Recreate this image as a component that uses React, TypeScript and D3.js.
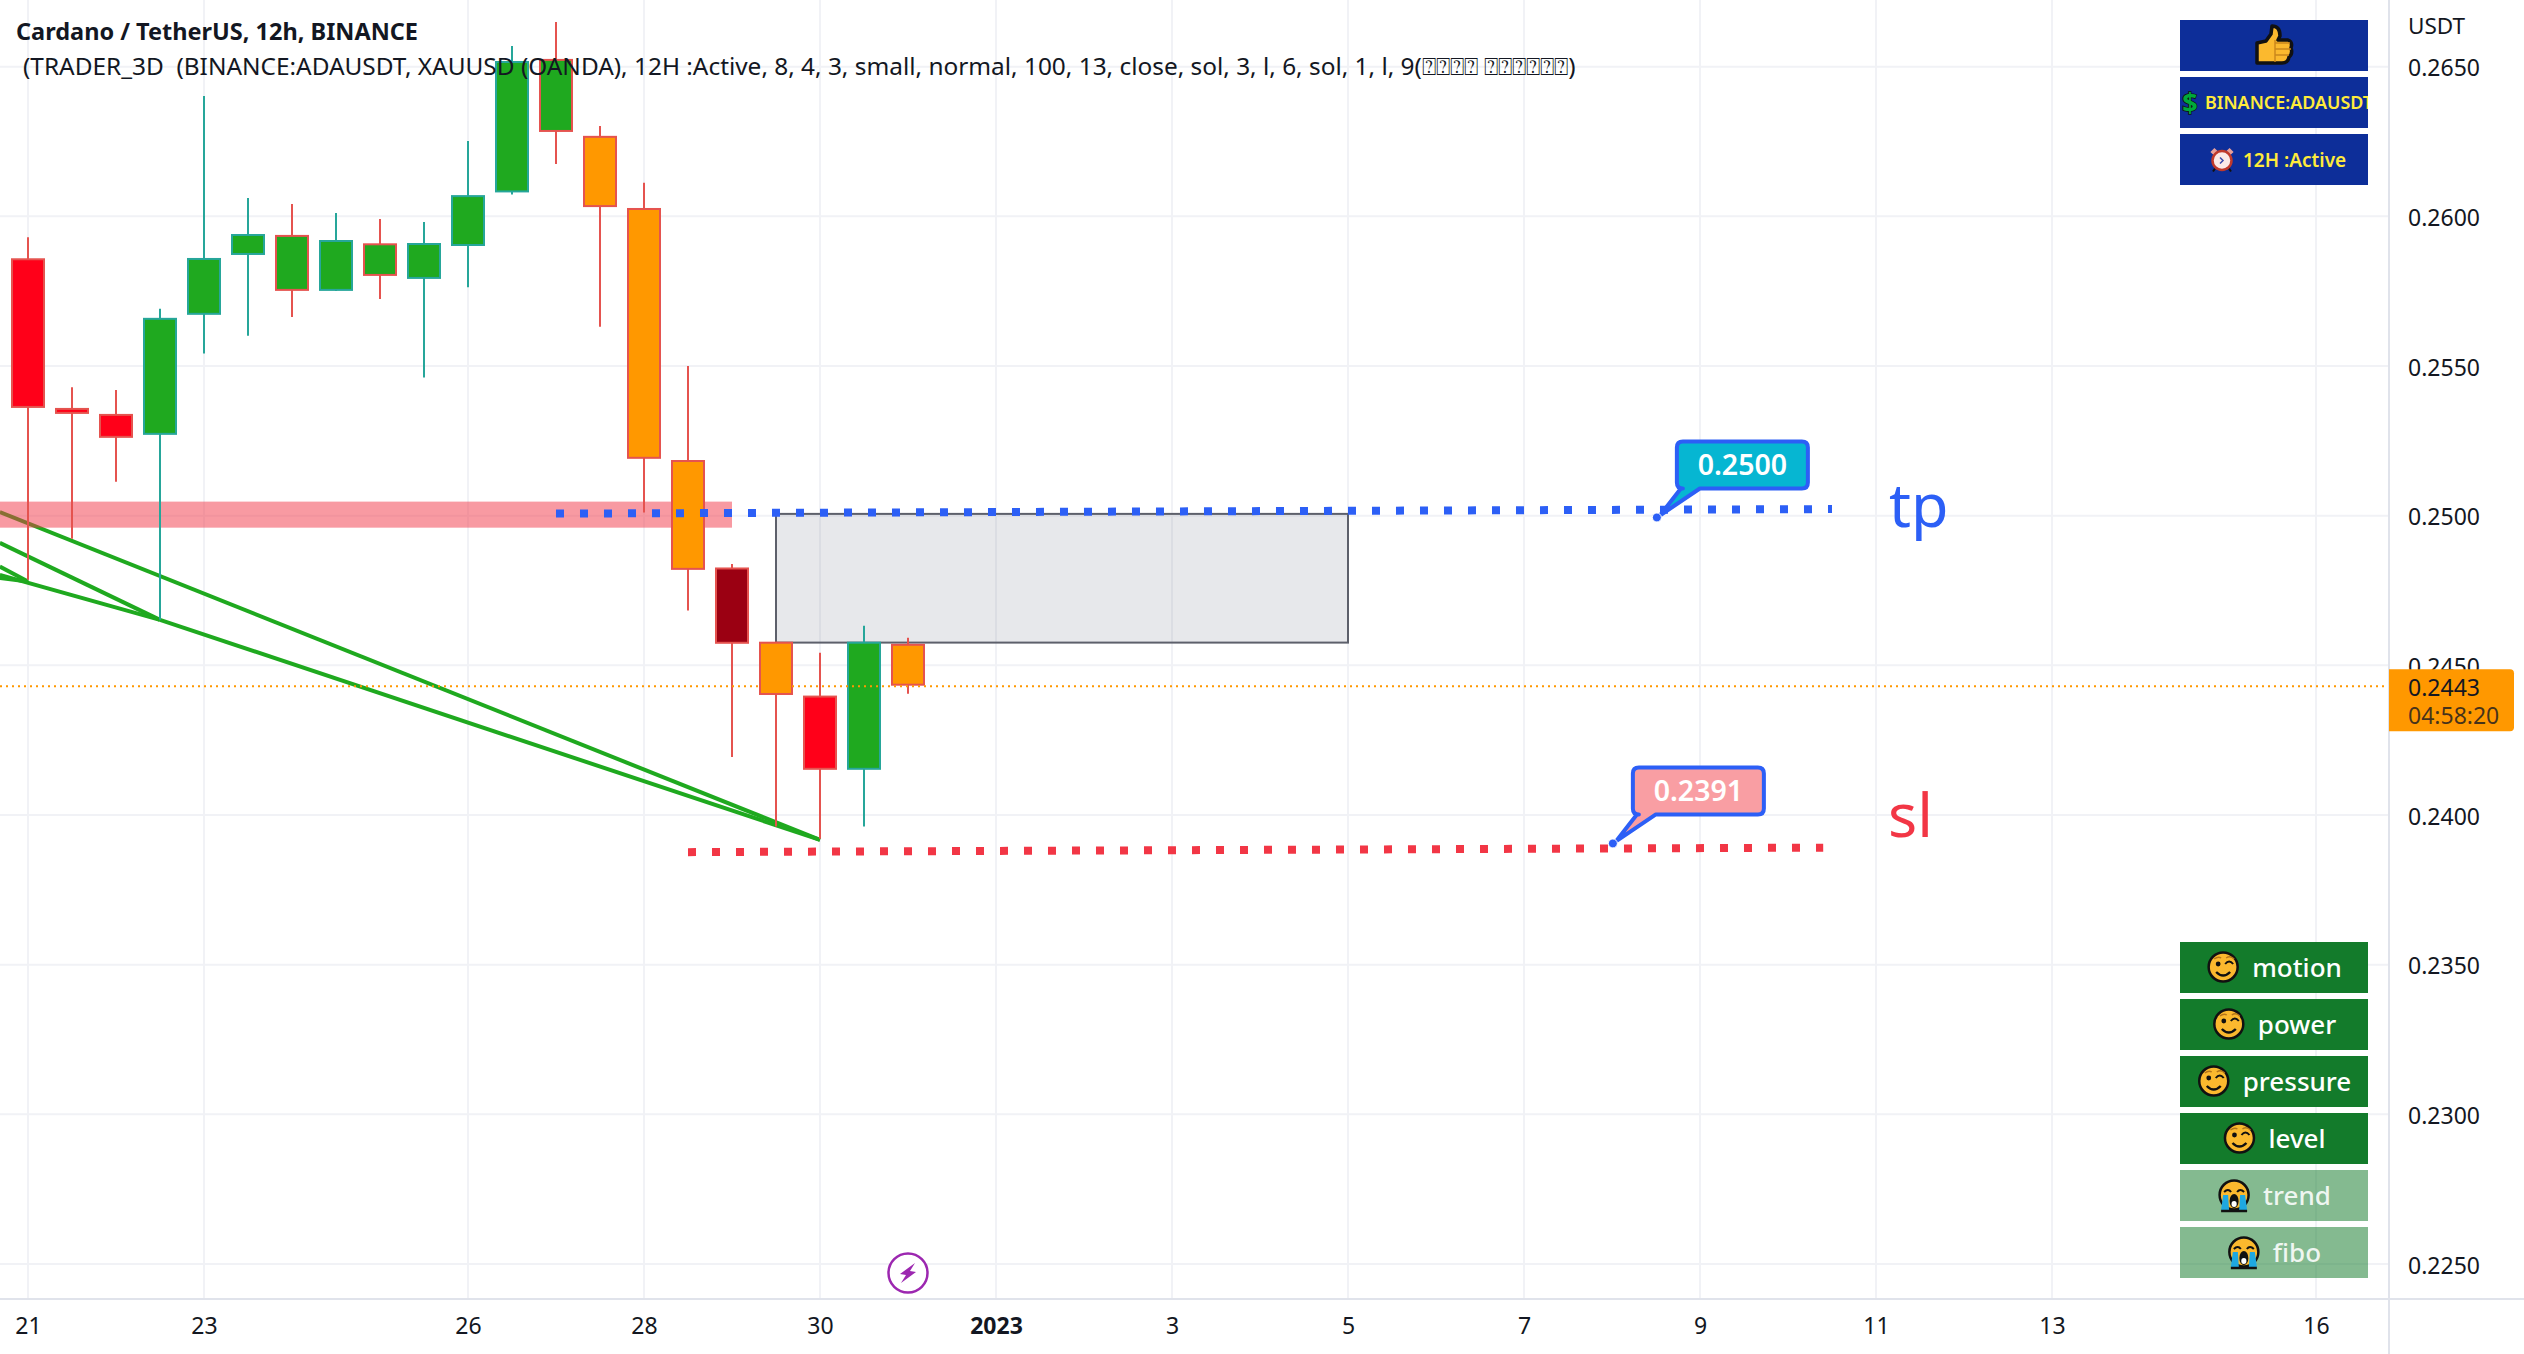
import React, { useEffect, useRef } from "react";
import * as d3 from "d3";

const WIDTH = 2524;
const HEIGHT = 1354;
const PLOT_RIGHT = 2389;
const PLOT_BOTTOM = 1299;
const FONT = "'Noto Sans', sans-serif";

// candles, 12h each, from Dec 21 00:00
const opens = [0.2586, 0.2536, 0.2534, 0.2527, 0.25671, 0.25871, 0.25938, 0.25751, 0.2591, 0.25791, 0.25901, 0.2608, 0.26526, 0.26269, 0.26028, 0.25186, 0.24827, 0.24579, 0.24399, 0.24151, 0.24572];
const highs = [0.2593, 0.25429, 0.2542, 0.25691, 0.26402, 0.26061, 0.26041, 0.26011, 0.25991, 0.25981, 0.26252, 0.26569, 0.26649, 0.26302, 0.26112, 0.255, 0.24839, 0.24579, 0.24542, 0.24632, 0.24592];
const lows = [0.24786, 0.24923, 0.25113, 0.24652, 0.25542, 0.25601, 0.25664, 0.25751, 0.25724, 0.25462, 0.25763, 0.26073, 0.26175, 0.25631, 0.25011, 0.24683, 0.24194, 0.23962, 0.23921, 0.23962, 0.24405];
const closes = [0.2536, 0.2534, 0.2526, 0.25661, 0.25861, 0.25941, 0.25751, 0.25921, 0.25801, 0.25911, 0.26071, 0.26519, 0.26282, 0.26031, 0.2519, 0.24819, 0.24572, 0.24401, 0.24151, 0.24579, 0.24432];
// body colour comes from the indicator, not from the direction of the candle
const bodyKinds = ["red", "red", "red", "green", "green", "green", "green", "green", "green", "green", "green", "green", "green", "orange", "orange", "orange", "dark", "orange", "red", "green", "orange"];

const priceTicks = [0.225, 0.23, 0.235, 0.24, 0.245, 0.25, 0.255, 0.26, 0.265];
const timeTickDays = [[2022, 11, 21], [2022, 11, 23], [2022, 11, 26], [2022, 11, 28], [2022, 11, 30], [2023, 0, 1], [2023, 0, 3], [2023, 0, 5], [2023, 0, 7], [2023, 0, 9], [2023, 0, 11], [2023, 0, 13], [2023, 0, 16]];
const timeTickLabels = ["21", "23", "26", "28", "30", "2023", "3", "5", "7", "9", "11", "13", "16"];

const lastPrice = 0.2443;
const countdown = "04:58:20";

// [bar number, price] pairs
const trendLines = [
  [[-0.64, 0.25012], [18, 0.23917]],
  [[-0.64, 0.24909], [3, 0.24652]],
  [[-0.64, 0.24802], [3, 0.24652]],
  [[3, 0.24652], [18, 0.23917]],
  [[-0.64, 0.2483], [0, 0.2478]],
  [[-0.64, 0.24792], [0, 0.2478]],
];
const zoneBars = [-0.64, 16];
const zonePrices = [0.25047, 0.2496];
const boxBars = [17, 30];
const boxPrices = [0.25006, 0.24576];
const tpLine = [[12, 0.25007], [41, 0.25022]];
const slLine = [[15, 0.23876], [40.8, 0.23891]];
const tpTip = [37.02, 0.24994];
const slTip = [36.02, 0.23905];

const topPanelLabels = ["BINANCE:ADAUSDT", "12H :Active"];
const sidePanelLabels = ["motion", "power", "pressure", "level", "trend", "fibo"];
const sidePanelIcons = ["wink", "wink", "wink", "wink", "cry", "cry"];

const titleText = "Cardano / TetherUS, 12h, BINANCE";
const indicatorText = "(TRADER_3D  (BINANCE:ADAUSDT, XAUUSD (OANDA), 12H :Active, 8, 4, 3, small, normal, 100, 13, close, sol, 3, l, 6, sol, 1, l, 9(\u2370\u2370\u2370\u2370 \u2370\u2370\u2370\u2370\u2370\u2370)";

const BODY_FILL: Record<string, string> = { red: "#ff0019", green: "#1fa91f", orange: "#ff9800", dark: "#9b0012" };
const BLUE = "#2c5ff6";
const RED = "#f23645";
const GRID = "#f1f2f6";

const barTime = (i: number) => new Date(Date.UTC(2022, 11, 21) + i * 12 * 3600 * 1000);

function wink(g: any) {
  g.append("circle").attr("r", 14.5).attr("fill", "#fbb92e").attr("stroke", "#111").attr("stroke-width", 2.5);
  g.append("circle").attr("cx", -5).attr("cy", -3).attr("r", 2.4).attr("fill", "#111");
  g.append("path").attr("d", "M2,-3 Q6,-8 10,-3").attr("fill", "none").attr("stroke", "#111").attr("stroke-width", 2);
  g.append("path").attr("d", "M-9,-8 Q-5,-11 -2,-9 M3,-9 Q7,-12 11,-8").attr("fill", "none").attr("stroke", "#b5761a").attr("stroke-width", 1.4);
  g.append("path").attr("d", "M-7,5 Q0,12 7,5").attr("fill", "none").attr("stroke", "#111").attr("stroke-width", 2.4);
}

function cry(g: any) {
  g.append("circle").attr("r", 14.5).attr("fill", "#fbb92e").attr("stroke", "#111").attr("stroke-width", 2.5);
  g.append("path").attr("d", "M-10,-3 Q-6,-7 -3,-3 M3,-3 Q6,-7 10,-3").attr("fill", "none").attr("stroke", "#111").attr("stroke-width", 2);
  g.append("path").attr("d", "M-11,0 L-6,0 L-5,15 L-13,15 Z M6,0 L11,0 L13,15 L5,15 Z").attr("fill", "#1fa8e0");
  g.append("path").attr("d", "M-13,16 L13,16").attr("stroke", "#111").attr("stroke-width", 2.5);
  g.append("ellipse").attr("cy", 6).attr("rx", 4.5).attr("ry", 7).attr("fill", "#111");
  g.append("ellipse").attr("cy", 9).attr("rx", 2.6).attr("ry", 3).attr("fill", "#fff");
}

function thumb(g: any) {
  g.append("path")
    .attr("d", "M-17,-3 L-8,-5 L-3,-12 L-2,-20 Q6,-20 6,-10 L4,-6 L14,-6 Q19,-4 17,2 Q19,8 15,11 Q14,17 8,17 L-17,17 Z")
    .attr("fill", "#fbb92e").attr("stroke", "#111").attr("stroke-width", 3.5).attr("stroke-linejoin", "round");
  g.append("path").attr("d", "M1,-3 L16,-3 M1,3 L17,3 M1,9 L15,9 M1,-6 L1,16").attr("stroke", "#c9861c").attr("stroke-width", 1.4).attr("fill", "none");
}

function clock(g: any) {
  g.append("path").attr("d", "M-10,-7 L-6,-11 M10,-7 L6,-11").attr("stroke", "#e8a09a").attr("stroke-width", 4.5);
  g.append("path").attr("d", "M-7,8 L-9,11 M7,8 L9,11").attr("stroke", "#111").attr("stroke-width", 2);
  g.append("circle").attr("r", 9.5).attr("fill", "#fbe9e7").attr("stroke", "#c0392b").attr("stroke-width", 2.5);
  g.append("path").attr("d", "M-2,-3 L1,0 L-2,3").attr("fill", "none").attr("stroke", "#3949ab").attr("stroke-width", 1.5);
}

const App = () => {
  const ref = useRef<SVGSVGElement>(null);

  useEffect(() => {
    const svg = d3.select(ref.current);
    svg.selectAll("*").remove();

    const x = d3.scaleUtc().domain([Date.UTC(2022, 11, 21), Date.UTC(2023, 0, 16)]).range([28, 2316]);
    const y = d3.scaleLinear().domain([0.225, 0.265]).range([1264, 66.7]);
    const xb = (i: number) => x(barTime(i));
    const timeTicks = timeTickDays.map((d) => new Date(Date.UTC(d[0], d[1], d[2])));

    svg.append("rect").attr("width", WIDTH).attr("height", HEIGHT).attr("fill", "#fff");

    // grid
    const grid = svg.append("g").attr("stroke", GRID).attr("stroke-width", 2);
    grid.selectAll("line.h").data(priceTicks).join("line").attr("class", "h")
      .attr("x1", 0).attr("x2", PLOT_RIGHT).attr("y1", (d) => y(d)).attr("y2", (d) => y(d));
    grid.selectAll("line.v").data(timeTicks).join("line").attr("class", "v")
      .attr("y1", 0).attr("y2", PLOT_BOTTOM).attr("x1", (d) => x(d)).attr("x2", (d) => x(d));

    // grey box behind the candles
    svg.append("rect")
      .attr("x", xb(boxBars[0])).attr("width", xb(boxBars[1]) - xb(boxBars[0]))
      .attr("y", y(boxPrices[0])).attr("height", y(boxPrices[1]) - y(boxPrices[0]))
      .attr("fill", "#7a7d90").attr("fill-opacity", 0.18).attr("stroke", "#5d606b").attr("stroke-width", 2);

    // trend lines
    const line = d3.line<number[]>().x((d) => xb(d[0])).y((d) => y(d[1]));
    svg.append("g").selectAll("path").data(trendLines).join("path")
      .attr("d", (d) => line(d)).attr("fill", "none").attr("stroke", "#1fa91f").attr("stroke-width", 4);

    // zone
    svg.append("rect")
      .attr("x", xb(zoneBars[0])).attr("width", xb(zoneBars[1]) - xb(zoneBars[0]))
      .attr("y", y(zonePrices[0])).attr("height", y(zonePrices[1]) - y(zonePrices[0]))
      .attr("fill", "#f23645").attr("fill-opacity", 0.5);

    // candles
    const bodyW = 32;
    const candles = svg.append("g").selectAll("g").data(opens).join("g");
    const edge = (i: number) => (closes[i] >= opens[i] ? "#26a69a" : "#e5534f");
    candles.append("line")
      .attr("x1", (_, i) => xb(i)).attr("x2", (_, i) => xb(i))
      .attr("y1", (_, i) => y(highs[i])).attr("y2", (_, i) => y(lows[i]))
      .attr("stroke", (_, i) => edge(i)).attr("stroke-width", 2);
    candles.append("rect")
      .attr("x", (_, i) => xb(i) - bodyW / 2).attr("width", bodyW)
      .attr("y", (_, i) => y(Math.max(opens[i], closes[i])) + 1)
      .attr("height", (_, i) => Math.abs(y(opens[i]) - y(closes[i])) - 2)
      .attr("fill", (_, i) => BODY_FILL[bodyKinds[i]])
      .attr("stroke", (_, i) => edge(i)).attr("stroke-width", 2);

    // last price line
    svg.append("line").attr("x1", 0).attr("x2", PLOT_RIGHT).attr("y1", y(lastPrice)).attr("y2", y(lastPrice))
      .attr("stroke", "#ff9800").attr("stroke-width", 2).attr("stroke-dasharray", "2 4");

    // tp / sl dotted lines
    svg.append("path").attr("d", line(tpLine)).attr("stroke", BLUE).attr("stroke-width", 8).attr("stroke-dasharray", "8 16").attr("fill", "none");
    svg.append("path").attr("d", line(slLine)).attr("stroke", RED).attr("stroke-width", 8).attr("stroke-dasharray", "8 16").attr("fill", "none");

    // callouts
    const callout = (tip: number[], label: string, fill: string) => {
      const tx = xb(tip[0]);
      const ty = y(tip[1]);
      const g = svg.append("g").attr("transform", `translate(${tx},${ty})`);
      const l = 20, r = 151, t = -76, b = -29, c = 6;
      g.append("path")
        .attr("d", `M${l + c},${t} H${r - c} Q${r},${t} ${r},${t + c} V${b - c} Q${r},${b} ${r - c},${b} H43 L3,-2 L${l + 4},${b} H${l + c} Q${l},${b} ${l},${b - c} V${t + c} Q${l},${t} ${l + c},${t} Z`)
        .attr("fill", fill).attr("stroke", BLUE).attr("stroke-width", 4).attr("stroke-linejoin", "round");
      g.append("circle").attr("r", 4.5).attr("fill", BLUE).attr("stroke", "#fff").attr("stroke-width", 1);
      g.append("text").attr("x", (l + r) / 2).attr("y", (t + b) / 2).attr("dy", "0.36em")
        .attr("text-anchor", "middle").attr("font-family", FONT).attr("font-weight", 600)
        .attr("font-size", 28.5).attr("fill", "#fff").text(label);
    };
    callout(tpTip, "0.2500", "#06b6d2");
    callout(slTip, "0.2391", "#f99ea3");

    svg.append("text").attr("x", 1889).attr("y", 527).attr("font-family", FONT).attr("font-size", 61).attr("fill", BLUE).text("tp");
    svg.append("text").attr("x", 1888).attr("y", 837).attr("font-family", FONT).attr("font-size", 61).attr("fill", RED).text("sl");

    // bolt marker
    const bolt = svg.append("g").attr("transform", `translate(${xb(20)},1273)`);
    bolt.append("circle").attr("r", 19.5).attr("fill", "#fff").attr("stroke", "#9c27b0").attr("stroke-width", 2.5);
    bolt.append("path").attr("d", "M7,-10 L-8,1 L-2,2 L-7,10 L8,-1 L2,-2 Z").attr("fill", "#9c27b0");

    // axis borders
    svg.append("rect").attr("x", PLOT_RIGHT).attr("width", WIDTH - PLOT_RIGHT).attr("height", HEIGHT).attr("fill", "#fff");
    svg.append("rect").attr("y", PLOT_BOTTOM).attr("width", WIDTH).attr("height", HEIGHT - PLOT_BOTTOM).attr("fill", "#fff");
    svg.append("line").attr("x1", PLOT_RIGHT).attr("x2", PLOT_RIGHT).attr("y1", 0).attr("y2", HEIGHT).attr("stroke", "#e0e3eb").attr("stroke-width", 2);
    svg.append("line").attr("x1", 0).attr("x2", WIDTH).attr("y1", PLOT_BOTTOM).attr("y2", PLOT_BOTTOM).attr("stroke", "#e0e3eb").attr("stroke-width", 2);

    // axes
    const yAxis = svg.append("g").attr("transform", `translate(${PLOT_RIGHT},0)`)
      .call(d3.axisRight(y).tickValues(priceTicks).tickFormat(d3.format(".4f")).tickSize(0).tickPadding(19));
    const xAxis = svg.append("g").attr("transform", `translate(0,${PLOT_BOTTOM})`)
      .call(d3.axisBottom(x).tickValues(timeTicks).tickFormat((_, i) => timeTickLabels[i]).tickSize(0).tickPadding(19));
    [yAxis, xAxis].forEach((a) => {
      a.select(".domain").remove();
      a.selectAll("text").attr("font-family", FONT).attr("font-size", 23).attr("fill", "#131722");
    });
    yAxis.selectAll("text").attr("dy", "0.4em");
    xAxis.selectAll("text").filter((_, i) => timeTickLabels[i] === "2023").attr("font-weight", 700);
    svg.append("text").attr("x", 2408).attr("y", 34).attr("font-family", FONT).attr("font-size", 22.5).attr("fill", "#131722").text("USDT");

    // price tag
    const tagY = y(lastPrice);
    svg.append("path").attr("d", `M${PLOT_RIGHT},${tagY - 17} H2510 Q2514,${tagY - 17} 2514,${tagY - 13} V${tagY + 41} Q2514,${tagY + 45} 2510,${tagY + 45} H${PLOT_RIGHT} Z`).attr("fill", "#ff9800");
    svg.append("text").attr("x", 2408).attr("y", tagY).attr("dy", "0.4em").attr("font-family", FONT).attr("font-size", 23).attr("fill", "#131722").text(d3.format(".4f")(lastPrice));
    svg.append("text").attr("x", 2408).attr("y", tagY + 29).attr("dy", "0.36em").attr("font-family", FONT).attr("font-size", 23).attr("fill", "#131722").attr("fill-opacity", 0.8).text(countdown);

    // panels top right
    const panelX = 2180;
    const panelW = 188;
    const panelH = 51;
    const defs = svg.append("defs");
    defs.append("clipPath").attr("id", "panel-clip").append("rect").attr("x", panelX).attr("y", 0).attr("width", panelW).attr("height", 200);
    [20, 77, 134].forEach((py) => {
      svg.append("rect").attr("x", panelX).attr("y", py).attr("width", panelW).attr("height", panelH).attr("fill", "#0d2e99");
    });
    thumb(svg.append("g").attr("transform", "translate(2274,46)"));
    svg.append("text").attr("x", 2190).attr("y", 103).attr("dy", "0.36em").attr("text-anchor", "middle")
      .attr("font-family", FONT).attr("font-weight", 700).attr("font-size", 27).attr("fill", "#00a83b")
      .attr("stroke", "#111").attr("stroke-width", 1.6).attr("paint-order", "stroke").text("$");
    svg.append("text").attr("x", 2205).attr("y", 109).attr("clip-path", "url(#panel-clip)")
      .attr("font-family", FONT).attr("font-weight", 600).attr("font-size", 18.5).attr("fill", "#ffeb3b")
      .attr("textLength", 168).attr("lengthAdjust", "spacingAndGlyphs").text(topPanelLabels[0]);
    clock(svg.append("g").attr("transform", "translate(2222,160.5)"));
    svg.append("text").attr("x", 2243).attr("y", 167).attr("font-family", FONT).attr("font-weight", 600).attr("font-size", 19).attr("fill", "#ffeb3b").text(topPanelLabels[1]);

    // panels bottom right, icon sits to the left of the centred word
    sidePanelLabels.forEach((label, i) => {
      const py = 942 + i * 57;
      const faded = sidePanelIcons[i] === "cry";
      svg.append("rect").attr("x", panelX).attr("y", py).attr("width", panelW).attr("height", panelH)
        .attr("fill", "#137b2b").attr("fill-opacity", faded ? 0.52 : 1);
      const t = svg.append("text").attr("x", 2297).attr("y", py + 34.5).attr("text-anchor", "middle")
        .attr("font-family", FONT).attr("font-weight", 500).attr("font-size", 26).attr("fill", "#fff").attr("fill-opacity", faded ? 0.88 : 1).text(label);
      const w = (t.node() as SVGTextElement).getComputedTextLength();
      const icon = svg.append("g").attr("transform", `translate(${2297 - w / 2 - 29},${py + 25})`);
      if (faded) cry(icon); else wink(icon);
    });

    // titles
    svg.append("text").attr("x", 16).attr("y", 40).attr("font-family", FONT).attr("font-weight", 700).attr("font-size", 23.5).attr("fill", "#131722").text(titleText);
    svg.append("text").attr("x", 23).attr("y", 75).attr("font-family", FONT).attr("font-size", 24.4).attr("fill", "#131722").attr("xml:space", "preserve").text(indicatorText);
  }, []);

  return (
    <svg ref={ref} width={WIDTH} height={HEIGHT} style={{ position: "absolute", left: 0, top: 0, display: "block" }} />
  );
};

export default App;
